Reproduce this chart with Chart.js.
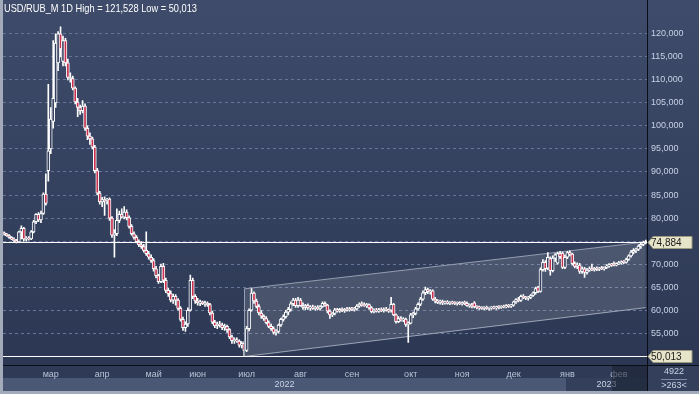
<!DOCTYPE html>
<html><head><meta charset="utf-8">
<script src="https://cdn.jsdelivr.net/npm/chart.js@4/dist/chart.umd.min.js"></script>
<style>html,body{margin:0;padding:0;background:#2f3b57;overflow:hidden}canvas{display:block}</style>
</head><body>
<canvas id="c" width="699" height="394" style="width:699px;height:394px"></canvas>
<script>
// ---------- DATA ----------
const symbol = 'USD/RUB_M';
const timeframe = '1D';
const months = ['фев','мар','апр','май','июн','июл','авг','сен','окт','ноя','дек','янв','фев'];
const monthYears = [2022,2022,2022,2022,2022,2022,2022,2022,2022,2022,2022,2023,2023];
const barsPerMonth = [19,21,21,18,20,22,21,24,21,21,22,21,12];
const years = ['2022','2023'];
const totalBars = 4922;

const opens = [
76.8,76.5,76.2,75.8,75.4,75.1,74.8,77.0,77.8,75.4,75.6,75.5,77.0,79.2,80.8,79.6,81.0,85.2,90.3,
95.0,101.0,105.0,113.7,120.0,114.0,118.5,113.7,110.5,110.3,108.2,105.2,104.0,103.3,104.3,99.5,97.8,97.2,95.4,90.3,85.4,
83.5,84.0,83.8,84.1,80.0,76.3,76.6,79.5,80.8,80.2,81.3,80.1,78.2,76.6,75.8,74.9,74.2,73.8,73.0,72.3,71.5,
70.8,69.0,67.5,66.2,69.5,66.5,64.3,63.6,62.2,63.0,62.2,60.4,58.0,56.2,57.0,60.0,66.5,63.0,
62.0,61.6,61.8,61.4,61.5,61.2,59.4,57.4,56.6,57.0,56.8,56.2,56.5,55.8,54.2,53.4,53.6,53.3,52.4,52.8,
51.3,56.0,60.0,63.7,62.0,60.8,59.4,58.7,58.2,57.3,56.5,56.0,55.2,55.4,56.8,58.0,58.6,59.6,60.2,61.4,62.2,61.0,
62.2,61.0,60.6,61.0,60.5,60.7,60.4,60.6,60.3,60.8,61.5,61.1,59.8,59.0,59.3,60.1,59.8,60.2,59.9,60.2,60.0,
60.3,60.2,60.3,60.9,61.3,61.2,61.0,61.2,60.5,59.7,60.0,59.8,60.1,59.9,60.2,60.0,60.0,61.3,59.0,57.5,58.2,57.9,58.1,56.9,
57.2,59.0,59.3,60.3,61.3,62.4,63.8,64.5,64.0,64.2,62.4,62.0,61.7,61.9,61.6,61.8,61.5,61.7,61.6,61.5,61.6,
61.4,61.6,61.5,61.0,61.1,61.6,60.7,60.6,60.5,60.4,60.6,60.4,60.5,60.6,60.5,60.7,60.6,60.8,60.7,61.0,60.9,
61.1,61.8,62.3,62.1,63.0,62.8,62.6,62.8,63.2,63.8,65.0,64.1,68.8,70.4,69.1,71.2,68.6,71.3,70.2,72.3,72.4,69.3,
71.5,72.5,72.2,70.1,69.5,69.8,68.4,69.0,68.2,68.7,69.0,68.8,69.1,68.9,69.2,69.0,69.3,69.6,69.9,70.2,69.8,
70.1,70.3,70.5,70.4,71.0,71.8,72.6,73.0,73.2,73.9,74.3,74.6
];
const highs = [
77.0,76.7,76.4,76.0,75.7,75.4,77.2,78.3,78.0,76.0,76.0,77.3,79.5,81.0,81.2,81.5,85.5,89.6,109.0,
104.0,118.5,120.0,120.5,121.528,119.5,119.0,114.5,111.5,110.8,108.5,106.0,104.5,105.5,104.8,100.0,98.5,97.6,95.8,90.8,85.8,
84.5,84.6,84.3,84.4,80.3,77.5,82.0,81.5,82.0,82.5,81.8,80.5,78.6,77.0,76.2,75.3,74.9,74.3,77.0,72.8,72.0,
71.2,69.5,67.8,70.0,70.2,67.0,64.8,64.2,63.5,63.4,62.5,60.8,58.5,57.5,60.5,67.6,67.0,63.4,
62.6,62.2,62.0,62.0,61.8,61.5,59.8,57.8,57.4,57.6,57.2,57.0,56.8,56.0,54.6,54.0,54.0,53.6,53.2,53.2,
56.5,60.3,64.7,64.0,62.4,61.2,59.9,59.0,58.6,57.7,57.0,56.4,55.8,57.0,58.3,59.0,60.0,60.6,61.8,62.6,62.6,62.8,
62.6,61.6,61.3,61.4,61.0,61.1,60.9,61.0,61.0,61.8,61.8,61.3,60.1,59.5,60.4,60.4,60.4,60.5,60.4,60.6,60.6,
60.6,60.6,61.2,61.6,61.8,61.6,61.5,61.4,60.8,60.3,60.4,60.4,60.5,60.5,60.6,60.3,62.8,61.5,59.2,58.6,58.6,58.4,58.3,57.5,
59.3,59.6,60.6,61.6,62.8,64.2,65.0,64.8,64.5,64.4,62.8,62.3,62.2,62.2,62.0,62.1,61.9,62.0,61.9,61.8,61.9,
61.8,62.0,61.8,61.4,61.5,61.9,61.0,60.9,60.8,60.8,60.9,60.7,60.8,60.9,60.9,61.0,61.0,61.1,61.2,61.3,61.3,
62.0,62.5,62.8,63.3,63.4,63.0,63.0,63.4,64.0,65.0,65.2,69.2,71.0,70.8,72.5,71.6,71.8,72.3,72.6,72.8,72.6,72.0,
72.8,72.9,72.4,70.5,70.3,70.2,69.4,69.3,69.1,69.4,70.0,69.3,69.4,69.3,69.5,69.4,69.9,70.1,70.2,70.5,70.3,
70.6,70.7,70.8,71.3,72.0,73.0,73.4,73.5,74.2,74.6,75.0,75.2
];
const lows = [
76.3,76.0,75.6,75.3,74.9,74.6,74.7,75.5,75.0,75.0,75.2,75.3,76.8,78.8,79.2,79.0,80.8,82.8,88.0,
94.0,99.5,104.0,112.0,115.0,113.0,113.0,110.0,109.5,107.8,104.8,102.0,102.5,102.8,99.0,97.0,96.0,95.0,89.8,85.0,83.0,
82.5,80.6,83.0,79.5,75.8,71.5,76.2,79.0,80.0,79.8,79.6,77.8,76.3,75.4,74.6,73.8,73.4,72.6,71.9,71.1,70.4,
68.5,67.0,65.8,66.0,66.0,63.8,63.0,61.8,61.5,61.1,60.0,57.6,55.6,55.4,56.5,59.8,62.5,61.5,
61.1,61.0,61.2,60.8,60.8,59.0,57.0,56.2,56.0,56.3,55.8,55.6,55.2,53.8,52.8,52.8,53.0,52.0,51.8,50.013,
51.0,55.5,59.8,61.5,60.5,59.0,58.2,57.8,57.0,56.2,55.6,54.8,54.6,55.0,56.5,57.6,58.3,59.0,59.8,61.0,60.6,60.6,
60.8,60.2,60.1,60.2,60.0,60.2,60.0,60.1,60.0,60.6,60.8,59.4,58.2,58.6,59.0,59.6,59.5,59.7,59.5,59.8,59.8,
59.9,59.8,60.0,60.6,60.9,60.8,60.6,60.2,59.4,59.4,59.6,59.5,59.7,59.6,59.8,59.5,59.6,58.8,57.2,57.3,57.6,57.5,56.5,53.0,
57.0,58.4,59.0,60.0,61.0,62.1,63.4,63.6,63.5,62.1,61.6,61.4,61.3,61.2,61.3,61.3,61.2,61.3,61.2,61.1,61.2,
61.1,61.2,60.8,60.6,60.5,60.5,60.3,60.2,60.2,60.1,60.2,60.0,60.2,60.3,60.2,60.3,60.4,60.5,60.5,60.6,60.6,
60.9,61.5,61.8,61.9,62.5,62.3,62.2,62.5,63.0,63.5,63.8,63.9,68.5,68.4,68.8,67.6,68.3,70.6,70.0,71.2,69.0,69.0,
71.2,71.8,69.8,69.2,69.0,68.0,68.0,67.1,67.8,68.4,68.6,68.5,68.6,68.6,68.8,68.7,69.0,69.3,69.5,69.6,69.6,
69.9,70.0,70.1,70.2,70.8,71.5,72.2,72.5,72.9,73.4,74.0,74.4
];
const closes = [
76.5,76.2,75.8,75.4,75.1,74.8,77.0,77.8,75.4,75.6,75.5,77.0,79.2,80.8,79.6,81.0,85.2,83.2,94.6,
101.5,106.0,118.0,120.0,116.7,118.5,113.7,110.5,110.3,108.2,105.2,104.0,103.3,104.3,99.5,97.8,97.2,95.4,90.3,85.4,83.5,
84.0,83.8,84.1,80.0,76.3,76.8,79.5,80.8,80.2,81.3,80.1,78.2,76.6,75.8,74.9,74.2,73.8,73.0,72.3,71.5,70.8,
69.0,67.5,66.2,69.5,66.5,64.3,63.6,62.2,63.0,62.2,60.4,58.0,56.2,57.0,60.0,66.5,63.0,62.0,
61.6,61.8,61.4,61.5,61.2,59.4,57.4,56.6,57.0,56.8,56.2,56.5,55.8,54.2,53.4,53.6,53.3,52.4,52.8,51.3,
56.0,60.0,63.7,62.0,60.8,59.4,58.7,58.2,57.3,56.5,56.0,55.2,55.4,56.8,58.0,58.6,59.6,60.2,61.4,62.2,61.0,62.2,
61.0,60.6,61.0,60.5,60.7,60.4,60.6,60.3,60.8,61.5,61.1,59.8,59.0,59.3,60.1,59.8,60.2,59.9,60.2,60.0,60.3,
60.2,60.3,60.9,61.3,61.2,61.0,61.2,60.5,59.7,60.0,59.8,60.1,59.9,60.2,60.0,59.8,61.3,59.0,57.5,58.2,57.9,58.1,56.9,57.2,
59.0,59.3,60.3,61.3,62.4,63.8,64.5,64.0,64.2,62.4,62.0,61.7,61.9,61.6,61.8,61.5,61.7,61.6,61.5,61.6,61.4,
61.6,61.5,61.0,61.1,60.8,60.7,60.6,60.5,60.4,60.6,60.4,60.5,60.6,60.5,60.7,60.6,60.8,60.7,61.0,60.9,61.1,
61.8,62.3,62.1,63.0,62.8,62.6,62.8,63.2,63.8,64.7,64.1,68.8,70.4,69.0,71.5,68.6,71.3,72.0,72.3,71.6,69.3,71.5,
72.5,72.2,70.1,69.5,69.8,68.4,69.0,68.2,68.7,69.0,68.8,69.1,68.9,69.2,69.0,69.3,69.6,69.9,69.8,69.8,70.1,
70.3,70.5,70.4,71.0,71.8,72.6,73.0,73.2,73.9,74.3,74.6,74.884
];
const priceLines = [74.884, 50.013];      // current price, period low
const channelBars = [98, 262];             // bar indices where the channel starts / ends
const channelUpper = [64.63, 74.82];
const channelLower = [49.95, 60.56];
const axisMin = 48.11, axisMax = 125.29;

// ---------- BUILD ----------
const categories = [];
const monthStart = {};
months.forEach((m, k) => {
  for (let d = 0; d < barsPerMonth[k]; d++) {
    if (d === 0) monthStart[categories.length] = k;
    categories.push(m + ' ' + monthYears[k] + ' #' + (d + 1));
  }
});
const yearStartBar = {};
categories.forEach((c, i) => { const y = c.split(' ')[1]; if (yearStartBar[y] === undefined) yearStartBar[y] = i; });

const bodies = opens.map((o, i) => [o, closes[i]]);
const wicks = lows.map((l, i) => [l, highs[i]]);
const bodyFill = opens.map((o, i) => closes[i] < o ? '#c7304e' : '#34405d');
const upperData = categories.map(() => null);
const lowerData = categories.map(() => null);
channelBars.forEach((b, k) => { upperData[b] = channelUpper[k]; lowerData[b] = channelLower[k]; });

const fmt = v => v.toFixed(3).replace('.', ',');
const hi = Math.max(...highs), lo = Math.min(...lows);
const FONT = '"Liberation Sans", Arial, sans-serif';

const deco = {
  id: 'deco',
  beforeDraw(chart) {
    const c = chart.ctx, a = chart.chartArea, W = chart.width, H = chart.height;
    c.save();
    c.fillStyle = '#34405b'; c.fillRect(0, 0, W, H);
    const g = c.createLinearGradient(0, 0, 0, a.bottom);
    g.addColorStop(0, '#3e4b6a'); g.addColorStop(1, '#2c3853');
    c.fillStyle = g; c.fillRect(0, 0, W, a.bottom);
    c.fillStyle = '#2f3b56'; c.fillRect(a.left, a.bottom, a.right - a.left, 13);
    const xs = chart.scales.x;
    const half = (xs.getPixelForValue(1) - xs.getPixelForValue(0)) / 2;
    const yb = xs.getPixelForValue(yearStartBar[years[1]]) - half;
    c.fillStyle = '#4a5875'; c.fillRect(a.left, a.bottom + 13, yb - a.left, 13);
    c.fillStyle = '#34405b'; c.fillRect(yb, a.bottom + 13, a.right - yb, 13);
    c.fillStyle = '#a3abbb'; c.fillRect(0, 0, 3, H);
    c.fillStyle = '#a3abbb'; c.fillRect(0, H - 3, W, 3);
    c.restore();
  },
  afterDatasetsDraw(chart) {
    const c = chart.ctx, a = chart.chartArea, ys = chart.scales.y, xs = chart.scales.x;
    c.save();
    const x0 = Math.round(xs.getPixelForValue(channelBars[0])) + 0.5;
    c.strokeStyle = '#959eb1'; c.lineWidth = 1;
    c.beginPath(); c.moveTo(x0, ys.getPixelForValue(channelUpper[0])); c.lineTo(x0, ys.getPixelForValue(channelLower[0])); c.stroke();
    c.strokeStyle = '#ffffff'; c.lineWidth = 1;
    priceLines.forEach(v => {
      const y = Math.round(ys.getPixelForValue(v)) + 0.5;
      c.beginPath(); c.moveTo(a.left, y); c.lineTo(a.right, y); c.stroke();
    });
    c.restore();
  },
  afterDraw(chart) {
    const c = chart.ctx, a = chart.chartArea, ys = chart.scales.y, xs = chart.scales.x, W = chart.width;
    c.save();
    const half = (xs.getPixelForValue(1) - xs.getPixelForValue(0)) / 2;
    const yb = xs.getPixelForValue(yearStartBar[years[1]]) - half;
    c.font = '9px ' + FONT; c.fillStyle = '#c8d2e4'; c.textAlign = 'center'; c.textBaseline = 'middle';
    c.fillText(years[0], (a.left + yb) / 2, a.bottom + 19.5);
    c.fillText(years[1], (yb + a.right) / 2, a.bottom + 19.5);
    c.fillStyle = 'rgba(24,31,48,0.55)'; c.fillRect(612, a.bottom, a.right - 612, 26);
    c.strokeStyle = '#0a0e16'; c.lineWidth = 1;
    c.beginPath(); c.moveTo(a.right + 0.5, 0); c.lineTo(a.right + 0.5, a.bottom + 26); c.stroke();
    c.beginPath(); c.moveTo(a.left, a.bottom + 0.5); c.lineTo(W, a.bottom + 0.5); c.stroke();
    const cx = (a.right + W) / 2 + 1;
    c.fillStyle = '#c8d2e6'; c.font = '9px ' + FONT;
    c.fillText(String(totalBars), cx, a.bottom + 6.5);
    c.fillText('>' + categories.length + '<', cx, a.bottom + 20.5);
    c.strokeStyle = '#7d8aa4'; c.beginPath(); c.moveTo(cx - 13, a.bottom + 14.5); c.lineTo(cx + 13, a.bottom + 14.5); c.stroke();
    priceLines.forEach(v => {
      const y = Math.round(ys.getPixelForValue(v)) + 0.5;
      const x = a.right + 1;
      c.beginPath();
      c.moveTo(x, y); c.lineTo(x + 5, y - 6); c.lineTo(x + 44, y - 6); c.lineTo(x + 44, y + 6); c.lineTo(x + 5, y + 6); c.closePath();
      c.fillStyle = '#e6e4c9'; c.fill();
      c.strokeStyle = '#9c9a82'; c.stroke();
      c.fillStyle = '#1c1c1c'; c.textAlign = 'left'; c.textBaseline = 'middle';
      c.font = '10px ' + FONT;
      c.fillText(fmt(v), x + 3, y + 0.5);
    });
    const title = symbol + ' ' + timeframe + ' High = ' + fmt(hi) + ' Low = ' + fmt(lo);
    c.font = '11px ' + FONT; c.textAlign = 'left'; c.textBaseline = 'alphabetic';
    const w = c.measureText(title).width;
    c.translate(4, 12); c.scale(193 / w, 1);
    c.fillStyle = '#ffffff'; c.fillText(title, 0, 0);
    c.restore();
  }
};

new Chart(document.getElementById('c'), {
  type: 'bar',
  data: {
    labels: categories,
    datasets: [
      { type: 'line', data: upperData, borderColor: '#959eb1', borderWidth: 1, pointRadius: 0, spanGaps: true,
        fill: '+1', backgroundColor: 'rgba(255,255,255,0.13)', order: 3 },
      { type: 'line', data: lowerData, borderColor: '#959eb1', borderWidth: 1, pointRadius: 0, spanGaps: true,
        fill: false, order: 3 },
      { data: wicks, backgroundColor: '#ffffff', barThickness: 1, grouped: false, order: 2 },
      { data: bodies, backgroundColor: bodyFill, borderColor: '#ffffff', borderWidth: 1, borderSkipped: false,
        barThickness: 3, grouped: false, minBarLength: 1, order: 1 }
    ]
  },
  options: {
    responsive: false, animation: false, devicePixelRatio: 1,
    layout: { autoPadding: false, padding: { left: 3, top: 2, right: 0, bottom: 3 } },
    plugins: { legend: { display: false }, tooltip: { enabled: false } },
    scales: {
      x: {
        offset: true,
        grid: { offset: true, drawTicks: false, lineWidth: 1,
          color: ctx => (ctx.index > 0 && monthStart[ctx.index] !== undefined) ? '#67759a' : 'rgba(0,0,0,0)' },
        border: { display: false, dash: [3, 3] },
        ticks: { autoSkip: false, maxRotation: 0, minRotation: 0, padding: 4, color: '#b9c3d7',
          font: { family: FONT, size: 9 },
          callback: (v, i) => (i > 0 && monthStart[i] !== undefined) ? months[monthStart[i]] : null },
        afterFit: s => { s.height = 26; }
      },
      y: {
        position: 'right', min: axisMin, max: axisMax,
        grid: { drawTicks: false, lineWidth: 1,
          color: ctx => (ctx.tick && ctx.tick.value <= 121 && ctx.tick.value >= 52) ? '#67759a' : 'rgba(0,0,0,0)' },
        border: { display: false, dash: [3, 3] },
        ticks: { stepSize: 5, includeBounds: false, padding: 4, color: '#c8d2e6',
          font: { family: FONT, size: 9 },
          callback: v => (v > 121 || v < 52) ? null : fmt(v) },
        afterFit: s => { s.width = 52; }
      }
    }
  },
  plugins: [deco]
});
</script>
</body></html>
